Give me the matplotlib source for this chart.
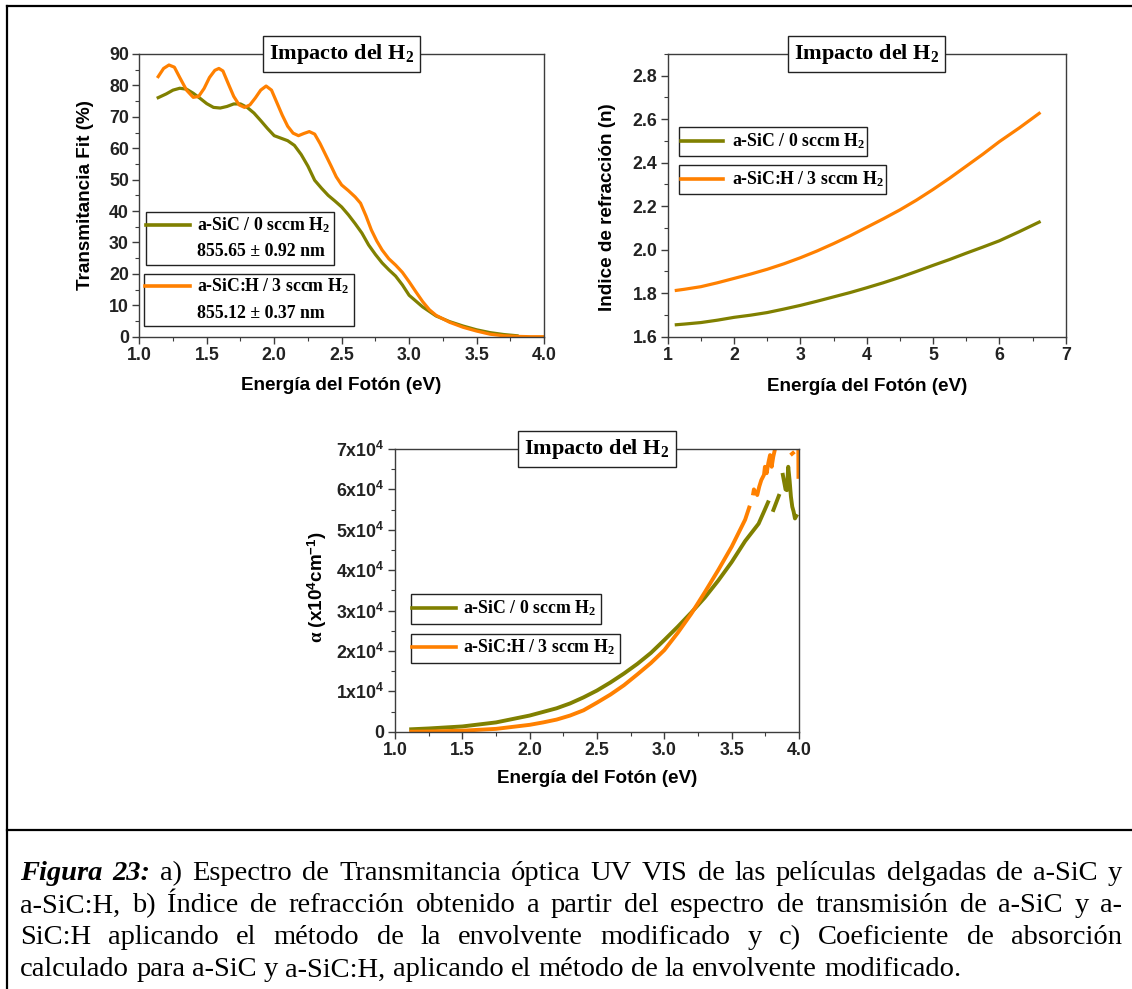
import numpy as np
import matplotlib
matplotlib.use("Agg")
import matplotlib.pyplot as plt
from matplotlib.patches import Rectangle
from matplotlib.lines import Line2D
from matplotlib.ticker import MultipleLocator, FormatStrFormatter

# ---- data ----
# a) Transmitancia Fit (%)
t_sic_e = [1.14, 1.20, 1.25, 1.30, 1.35, 1.40, 1.45, 1.50, 1.55, 1.60, 1.65, 1.70,
           1.75, 1.80, 1.85, 1.90, 1.95, 2.00, 2.05, 2.10, 2.15, 2.20, 2.25, 2.30,
           2.35, 2.40, 2.45, 2.50, 2.55, 2.60, 2.65, 2.70, 2.75, 2.80, 2.85, 2.90,
           2.95, 3.00, 3.10, 3.20, 3.30, 3.40, 3.50, 3.60, 3.70, 3.80]
t_sic = [76.1, 77.3, 78.5, 79.1, 78.8, 77.5, 75.9, 74.2, 73.0, 72.8, 73.3, 74.1,
         74.1, 73.0, 71.2, 68.8, 66.3, 64.0, 63.2, 62.4, 60.9, 58.0, 54.3, 49.8,
         47.3, 45.0, 43.2, 41.3, 38.8, 36.0, 33.0, 29.2, 26.2, 23.5, 21.3, 19.3,
         16.5, 13.2, 9.5, 6.6, 4.8, 3.4, 2.2, 1.3, 0.7, 0.3]

t_sich_e = [1.14, 1.18, 1.22, 1.26, 1.30, 1.35, 1.40, 1.44, 1.48, 1.52, 1.56, 1.59,
            1.62, 1.66, 1.70, 1.74, 1.78, 1.82, 1.86, 1.90, 1.94, 1.98, 2.02, 2.06,
            2.10, 2.14, 2.18, 2.22, 2.26, 2.30, 2.34, 2.38, 2.42, 2.46, 2.50, 2.55,
            2.60, 2.64, 2.68, 2.72, 2.76, 2.80, 2.85, 2.90, 2.95, 3.00, 3.05, 3.10,
            3.15, 3.20, 3.30, 3.40, 3.50, 3.60, 3.70, 3.80, 3.90, 4.00]
t_sich = [82.8, 85.4, 86.5, 85.8, 82.5, 78.5, 76.2, 76.5, 79.0, 82.5, 84.8, 85.4,
          84.6, 80.5, 76.5, 73.8, 73.0, 73.8, 76.0, 78.5, 79.8, 78.5, 74.5, 70.5,
          67.0, 64.8, 64.0, 64.7, 65.3, 64.5, 61.5, 58.0, 54.5, 50.9, 48.3, 46.5,
          44.5, 42.5, 38.5, 34.0, 30.5, 27.6, 24.8, 22.8, 20.5, 17.5, 14.3, 11.2,
          8.6, 6.8, 4.6, 3.0, 1.8, 0.8, 0.3, 0.1, 0.0, 0.0]

# b) Indice de refraccion (n)
n_e = [1.13, 1.25, 1.5, 1.75, 2.0, 2.25, 2.5, 2.75, 3.0, 3.25, 3.5, 3.75, 4.0,
       4.25, 4.5, 4.75, 5.0, 5.25, 5.5, 5.75, 6.0, 6.3, 6.6]
n_sic = [1.655, 1.658, 1.665, 1.676, 1.689, 1.699, 1.711, 1.727, 1.744, 1.763, 1.783,
         1.803, 1.825, 1.848, 1.873, 1.900, 1.928, 1.955, 1.984, 2.012, 2.041, 2.083, 2.127]
n_sich = [1.813, 1.818, 1.830, 1.848, 1.868, 1.888, 1.910, 1.935, 1.963, 1.994, 2.028,
          2.064, 2.103, 2.142, 2.183, 2.228, 2.277, 2.329, 2.384, 2.439, 2.497, 2.560, 2.627]

# c) alpha (cm^-1), NaN marks gaps in the measured curve
a_sic_e = [1.12, 1.25, 1.5, 1.75, 2.0, 2.1, 2.2, 2.3, 2.4, 2.5, 2.6, 2.7, 2.8, 2.9,
           3.0, 3.1, 3.2, 3.3, 3.4, 3.5, 3.6, 3.7, 3.74, 3.77,
           np.nan, 3.81, 3.85, np.nan, 3.88, 3.90, 3.91, 3.92, 3.93, 3.94, 3.95,
           3.96, 3.97, 3.98]
a_sic = [600, 800, 1300, 2300, 4000, 4900, 5800, 7000, 8500, 10200, 12200, 14400,
         16800, 19500, 22700, 26000, 29500, 33200, 37400, 42000, 47200, 51500,
         54500, 56800, np.nan, 54900, 58400, np.nan, 63600, 60000, 59800, 65600,
         62300, 58200, 55700, 54500, 52800, 53400]

a_sich_e = [1.12, 1.25, 1.5, 1.75, 2.0, 2.1, 2.2, 2.3, 2.4, 2.5, 2.6, 2.7, 2.8, 2.9,
            3.0, 3.1, 3.2, 3.3, 3.4, 3.5, 3.6, 3.63,
            np.nan, 3.66, 3.665, 3.69, 3.705, 3.72, 3.74, 3.747, 3.76, 3.772, 3.785,
            3.797, 3.809, 3.822, np.nan, 3.948, 3.955, np.nan, 3.995, 3.996]
a_sich = [0, 50, 250, 700, 1700, 2300, 3000, 4000, 5300, 7200, 9200, 11500, 14200,
          17000, 20200, 24500, 29200, 34500, 40000, 45800, 52500, 55500,
          np.nan, 59000, 60000, 58600, 60700, 62300, 63600, 65600, 64000, 66500,
          68500, 65600, 68100, 70000, np.nan, 68800, 69000, np.nan, 70000, 63100]

alpha_ticks = [0, 10000, 20000, 30000, 40000, 50000, 60000, 70000]
alpha_ticklabels = ["0"] + [r"$\mathsf{%dx10^{4}}$" % k for k in range(1, 8)]

label_sic = r"a-SiC / 0 sccm H$_2$"
label_sich = r"a-SiC:H / 3 sccm H$_2$"
thick_sic = "855.65 ± 0.92 nm"
thick_sich = "855.12 ± 0.37 nm"
panel_title = r"Impacto del H$_2$"

caption_lines = [
    [("Figura", "bi"), ("23:", "bi")] + [(w, "r") for w in
        "a) Espectro de Transmitancia óptica UV VIS de las películas delgadas de a-SiC y".split()],
    [(w, "r") for w in
        "a-SiC:H, b) Índice de refracción obtenido a partir del espectro de transmisión de a-SiC y a-".split()],
    [(w, "r") for w in
        "SiC:H aplicando el método de la envolvente modificado y c) Coeficiente de absorción".split()],
    [(w, "r") for w in
        "calculado para a-SiC y a-SiC:H, aplicando el método de la envolvente modificado.".split()],
]

OLIVE = "#808000"
ORANGE = "#ff8000"
SPINE = "#3c3c3c"

plt.rcParams["font.family"] = ["Liberation Sans", "DejaVu Sans"]
plt.rcParams["font.weight"] = "bold"
plt.rcParams["mathtext.fontset"] = "custom"
plt.rcParams["mathtext.rm"] = "Liberation Serif:bold"
plt.rcParams["mathtext.it"] = "Liberation Serif:bold"
plt.rcParams["mathtext.bf"] = "Liberation Serif:bold"
plt.rcParams["mathtext.sf"] = "Liberation Sans:bold"

W, H = 1132, 989
fig = plt.figure(figsize=(W / 100, H / 100), dpi=100)

TICK_SIZE = 12.8
LABEL_SIZE = 13.6


def px_axes(x0, x1, ytop, ybot):
    return fig.add_axes([x0 / W, 1 - ybot / H, (x1 - x0) / W, (ybot - ytop) / H])


def style_axes(ax, xmaj, xmin, ymaj, ymin):
    for s in ax.spines.values():
        s.set_color(SPINE)
        s.set_linewidth(1.0)
    ax.xaxis.set_major_locator(MultipleLocator(xmaj))
    ax.xaxis.set_minor_locator(MultipleLocator(xmin))
    ax.yaxis.set_major_locator(MultipleLocator(ymaj))
    ax.yaxis.set_minor_locator(MultipleLocator(ymin))
    ax.tick_params(which="both", direction="out", color=SPINE, top=False, right=False)
    ax.tick_params(which="major", length=5, width=1.0, labelsize=TICK_SIZE,
                   labelcolor="#222222", pad=2.5)
    ax.tick_params(which="minor", length=3, width=0.8)


def box_title(ax):
    ax.text(0.5, 1.0, panel_title, transform=ax.transAxes, ha="center", va="center",
            fontsize=16, family="Liberation Serif", weight="bold", zorder=10,
            bbox=dict(boxstyle="square,pad=0.28", fc="white", ec="#222222", lw=1.0),
            clip_on=False)


def legend_box(ax, box, line_x, line_y, text_x, label, color, sub=None, sub_y=None):
    x0, y0, x1, y1 = box
    ax.add_patch(Rectangle((x0, y0), x1 - x0, y1 - y0, transform=ax.transAxes,
                           fc="white", ec="#222222", lw=1.0, zorder=8))
    ax.add_line(Line2D(line_x, [line_y, line_y], transform=ax.transAxes, color=color,
                       lw=2.6, zorder=9))
    ax.text(text_x, line_y, label, transform=ax.transAxes, va="center", ha="left",
            fontsize=12.8, family="Liberation Serif", weight="bold", zorder=9)
    if sub is not None:
        ax.text(text_x, sub_y, sub, transform=ax.transAxes, va="center", ha="left",
                fontsize=12.8, family="Liberation Serif", weight="bold", zorder=9)


def axis_labels(ax, xlabel, ylabel, xl_y, yl_x, yl_y):
    ax.set_xlabel(xlabel, fontsize=LABEL_SIZE, weight="bold", va="center")
    ax.set_ylabel(ylabel, fontsize=LABEL_SIZE, weight="bold", va="center")
    ax.xaxis.set_label_coords(0.5, xl_y)
    ax.yaxis.set_label_coords(yl_x, yl_y)


# ---- a) transmittance ----
ax1 = px_axes(139.3, 544, 54, 336.7)
ax1.plot(t_sic_e, t_sic, color=OLIVE, lw=2.3)
ax1.plot(t_sich_e, t_sich, color=ORANGE, lw=2.3)
ax1.set_xlim(1.0, 4.0)
ax1.set_ylim(0, 90)
style_axes(ax1, 0.5, 0.25, 10, 5)
ax1.xaxis.set_major_formatter(FormatStrFormatter("%.1f"))
axis_labels(ax1, "Energía del Fotón (eV)", "Transmitancia Fit (%)", -0.171, -0.134, 0.5)
box_title(ax1)
legend_box(ax1, (0.017, 0.254, 0.481, 0.441), [0.017, 0.126], 0.395, 0.143,
           label_sic, OLIVE, thick_sic, 0.301)
legend_box(ax1, (0.012, 0.038, 0.530, 0.222), [0.014, 0.126], 0.179, 0.143,
           label_sich, ORANGE, thick_sich, 0.083)

# ---- b) refractive index ----
ax2 = px_axes(667.7, 1065.7, 54, 336.7)
ax2.plot(n_e, n_sic, color=OLIVE, lw=2.3)
ax2.plot(n_e, n_sich, color=ORANGE, lw=2.3)
ax2.set_xlim(1, 7)
ax2.set_ylim(1.6, 2.9)
style_axes(ax2, 1, 0.5, 0.2, 0.1)
ax2.set_yticks(np.arange(1.6, 2.81, 0.2))
ax2.yaxis.set_major_formatter(FormatStrFormatter("%.1f"))
axis_labels(ax2, "Energía del Fotón (eV)", "Indice de refracción (n)", -0.177, -0.150, 0.46)
box_title(ax2)
legend_box(ax2, (0.029, 0.639, 0.500, 0.743), [0.033, 0.140], 0.692, 0.161,
           label_sic, OLIVE)
legend_box(ax2, (0.029, 0.505, 0.548, 0.607), [0.033, 0.140], 0.558, 0.161,
           label_sich, ORANGE)

# ---- c) absorption coefficient ----
ax3 = px_axes(395, 799, 449, 731.7)
ax3.plot(a_sic_e, a_sic, color=OLIVE, lw=2.8)
ax3.plot(a_sich_e, a_sich, color=ORANGE, lw=2.8)
ax3.set_xlim(1.0, 4.0)
ax3.set_ylim(0, 70000)
style_axes(ax3, 0.5, 0.25, 10000, 5000)
ax3.set_yticks(alpha_ticks)
ax3.set_yticklabels(alpha_ticklabels)
ax3.xaxis.set_major_formatter(FormatStrFormatter("%.1f"))
axis_labels(ax3, "Energía del Fotón (eV)",
            r"$\alpha$ (x10$^{\mathsf{4}}$cm$^{\mathsf{-1}}$)", -0.167, -0.193, 0.51)
box_title(ax3)
legend_box(ax3, (0.040, 0.380, 0.509, 0.486), [0.042, 0.151], 0.436, 0.169,
           label_sic, OLIVE)
legend_box(ax3, (0.040, 0.242, 0.557, 0.346), [0.042, 0.151], 0.299, 0.169,
           label_sich, ORANGE)

# ---- frame and caption ----
fig.add_artist(Line2D([7 / W, 7 / W], [0, 1 - 6 / H], color="black", lw=1.6))
fig.add_artist(Line2D([7 / W, 1], [1 - 6 / H, 1 - 6 / H], color="black", lw=1.6))
fig.add_artist(Line2D([7 / W, 1], [1 - 830 / H, 1 - 830 / H], color="black", lw=1.6))

renderer = fig.canvas.get_renderer()
cap_x0, cap_x1 = 20, 1122
cap_y = [874, 906, 938, 970]
cap_size = 20.5


def caption_line(words, y, justify):
    texts = []
    for w, st in words:
        kw = dict(family="Liberation Serif", fontsize=cap_size, weight="normal",
                  va="center", ha="left")
        if st == "bi":
            kw.update(weight="bold", style="italic")
        texts.append(fig.text(0, 1 - y / H, w, **kw))
    widths = [t.get_window_extent(renderer).width for t in texts]
    probe = fig.text(0, 0, "a b", family="Liberation Serif", fontsize=cap_size,
                     weight="normal")
    sp = probe.get_window_extent(renderer).width
    probe.set_text("ab")
    sp -= probe.get_window_extent(renderer).width
    probe.remove()
    gap = (cap_x1 - cap_x0 - sum(widths)) / (len(texts) - 1) if justify else sp
    x = cap_x0
    for t, w in zip(texts, widths):
        t.set_x(x / W)
        x += w + gap


for i, line in enumerate(caption_lines):
    caption_line(line, cap_y[i], i < len(caption_lines) - 1)

fig.savefig("out.png", dpi=100)
